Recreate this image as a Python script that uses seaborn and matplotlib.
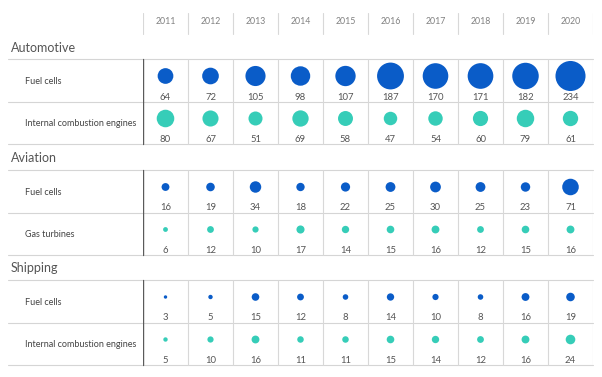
import pandas as pd
import numpy as np
import matplotlib.pyplot as plt
import seaborn as sns

# datos
years = [2011, 2012, 2013, 2014, 2015, 2016, 2017, 2018, 2019, 2020]
sections = ["Automotive", "Aviation", "Shipping"]
row_names = ["Fuel cells", "Internal combustion engines",
             "Fuel cells", "Gas turbines",
             "Fuel cells", "Internal combustion engines"]
row_kind = ["fc", "other", "fc", "other", "fc", "other"]

auto_fc = [64, 72, 105, 98, 107, 187, 170, 171, 182, 234]
auto_ice = [80, 67, 51, 69, 58, 47, 54, 60, 79, 61]
avi_fc = [16, 19, 34, 18, 22, 25, 30, 25, 23, 71]
avi_gt = [6, 12, 10, 17, 14, 15, 16, 12, 15, 16]
ship_fc = [3, 5, 15, 12, 8, 14, 10, 8, 16, 19]
ship_ice = [5, 10, 16, 11, 11, 15, 14, 12, 16, 24]
row_values = [auto_fc, auto_ice, avi_fc, avi_gt, ship_fc, ship_ice]

# layout (pixels)
W, H = 602, 377
section_y = [48, 158, 268]
row_top = [59, 101.5, 170, 212.5, 280, 322.5]
row_h = 42.5
grid_x0, grid_x1 = 143, 593
colores = {"fc": "#0a5cc8", "other": "#36cdb8"}

rows = []
for i, vals in enumerate(row_values):
    for yr, v in zip(years, vals):
        rows.append({"year": yr, "row": i, "kind": row_kind[i], "value": v,
                     "y": row_top[i] + 17, "ylab": row_top[i] + 38})
df = pd.DataFrame(rows)

sns.set_style("white")
plt.rcParams["font.family"] = ["Lato", "DejaVu Sans"]

fig = plt.figure(figsize=(W / 100, H / 100), dpi=100)
bg = fig.add_axes([0, 0, 1, 1])
bg.set_xlim(0, W)
bg.set_ylim(H, 0)
bg.axis("off")

ax = fig.add_axes([grid_x0 / W, 0, (grid_x1 - grid_x0) / W, 1])
ax.set_xlim(years[0] - 0.5, years[-1] + 0.5)
ax.set_ylim(H, 0)
ax.axis("off")
ax.patch.set_alpha(0)

col_edges = np.arange(years[0] - 0.5, years[-1] + 1, 1.0)

# encabezado de años
for yr in years:
    ax.text(yr, 22, str(yr), ha="center", va="center", fontsize=6.3, color="#808080")
for e in col_edges:
    ax.plot([e, e], [13, 34], color="#d8d8d8", lw=0.8)

# líneas de la tabla
for s in range(3):
    top = row_top[2 * s]
    bottom = top + 2 * row_h
    bg.text(11, section_y[s], sections[s], ha="left", va="center", fontsize=9, color="#555555")
    for yy in [top, top + row_h, bottom]:
        bg.plot([8, grid_x1], [yy, yy], color="#d5d5d5", lw=0.8)
    for e in col_edges[1:]:
        ax.plot([e, e], [top, bottom], color="#d8d8d8", lw=0.8)
    ax.plot([col_edges[0], col_edges[0]], [top, bottom], color="#5a5a5a", lw=1.0)

for i, name in enumerate(row_names):
    bg.text(25, row_top[i] + row_h / 2 + 1, name, ha="left", va="center",
            fontsize=6.5, color="#444444")

# burbujas: área proporcional al valor
sns.scatterplot(data=df, x="year", y="y", hue="kind", palette=colores,
                size="value", size_norm=(0, 234), sizes=(0, 468),
                linewidth=0, legend=False, ax=ax, zorder=3)
ax.set_xlim(years[0] - 0.5, years[-1] + 0.5)
ax.set_ylim(H, 0)
ax.axis("off")

for _, r in df.iterrows():
    ax.text(r["year"], r["ylab"], str(r["value"]), ha="center", va="center",
            fontsize=6.8, color="#555555")

plt.savefig("out.png", dpi=100)
